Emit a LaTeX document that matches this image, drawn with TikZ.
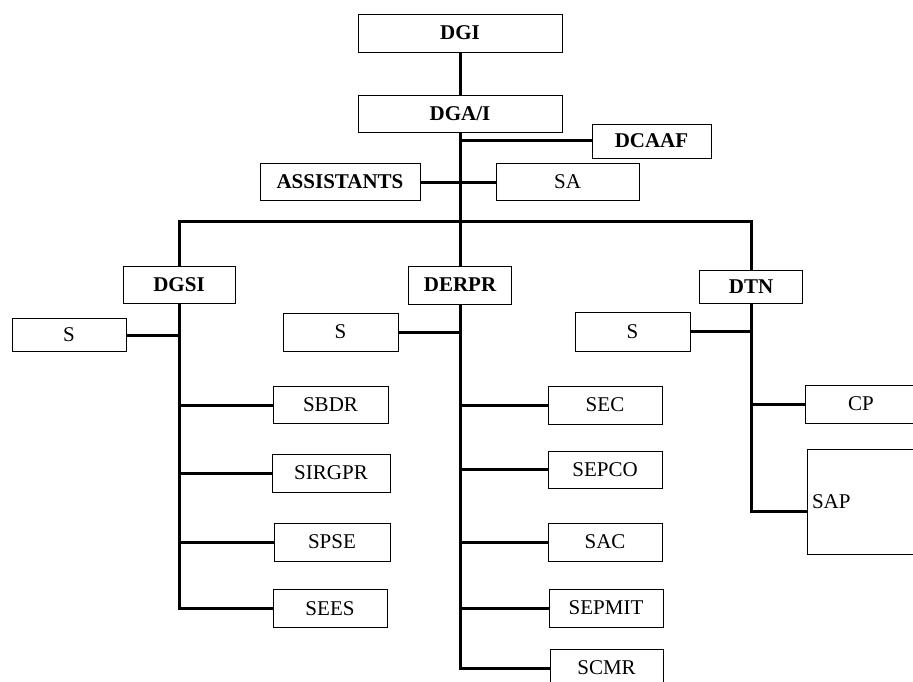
\documentclass[tikz,border=0pt]{standalone}
\usepackage{fontspec}
\setmainfont{Liberation Serif}
\tikzset{
	box/.style={draw, line width=0.9pt, inner sep=0pt, font=\fontsize{21}{24}\selectfont},
	head/.style={box, font=\fontsize{21}{24}\selectfont\bfseries},
	link/.style={line width=3pt}
}
\begin{document}
\begin{tikzpicture}[x=1pt,y=-1pt]
	\useasboundingbox (0,0) rectangle (913,682);
	% top
	\node [head,minimum width=204pt,minimum height=38pt] (dgi) at (460,33) {DGI};
	\node [head,minimum width=204pt,minimum height=37pt] (dgai) at (460,113.5) {DGA/I};
	\node [head,minimum width=119pt,minimum height=34pt] (dcaaf) at (651.5,141) {DCAAF};
	\node [head,minimum width=160pt,minimum height=37pt] (assist) at (340,182) {ASSISTANTS};
	\node [box,minimum width=143pt,minimum height=37pt] (sa) at (567.5,182) {SA};
	\coordinate (bus) at (460,221);
	% directions
	\node [head,minimum width=112pt,minimum height=37pt] (dgsi) at (179,284.5) {DGSI};
	\node [head,minimum width=103pt,minimum height=38pt] (derpr) at (460,285) {DERPR};
	\node [head,minimum width=103pt,minimum height=33pt] (dtn) at (751,286.5) {DTN};
	% DGSI
	\node [box,minimum width=114pt,minimum height=33pt] (sl) at (69,335) {S};
	\node [box,minimum width=115pt,minimum height=37pt] (sbdr) at (330.5,405) {SBDR};
	\node [box,minimum width=118pt,minimum height=38pt] (sirgpr) at (331,473) {SIRGPR};
	\node [box,minimum width=116pt,minimum height=38pt] (spse) at (332,542) {SPSE};
	\node [box,minimum width=114pt,minimum height=38pt] (sees) at (330,608.5) {SEES};
	% DERPR
	\node [box,minimum width=115pt,minimum height=38pt] (sm) at (340.5,332) {S};
	\node [box,minimum width=114pt,minimum height=38pt] (sec) at (605,405) {SEC};
	\node [box,minimum width=114pt,minimum height=37pt] (sepco) at (605,469.5) {SEPCO};
	\node [box,minimum width=114pt,minimum height=38pt] (sac) at (605,542) {SAC};
	\node [box,minimum width=114pt,minimum height=38pt] (sepmit) at (606,608) {SEPMIT};
	\node [box,minimum width=113pt,minimum height=38pt] (scmr) at (606.5,668) {SCMR};
	% DTN
	\node [box,minimum width=115pt,minimum height=39pt] (sr) at (632.5,331.5) {S};
	\node [box,minimum width=112pt,minimum height=38pt] (cp) at (861,404) {CP};
	\node [box,minimum width=110pt,minimum height=105pt,text width=100pt,align=left] (sap) at (862,501.5) {SAP};
	\coordinate (sapin) at ([yshift=-10pt]sap.west);

	\draw [link] (dgi) -- (dgai);
	\draw [link] (dgai.south) -- (bus);
	\draw [link] (dcaaf.west) -- (dcaaf.west -| dgai.south);
	\draw [link] (assist.east) -- (sa.west);
	\draw [link] (dgsi.north) -- (dgsi.north |- bus) -- (dtn.north |- bus) -- (dtn.north);
	\draw [link] (bus) -- (derpr.north);

	\draw [link] (dgsi.south) |- (sees.west);
	\draw [link] (sl.east) -- (sl.east -| dgsi.south);
	\foreach \n in {sbdr,sirgpr,spse}
		\draw [link] (\n.west) -- (\n.west -| dgsi.south);

	\draw [link] (derpr.south) |- (scmr.west);
	\draw [link] (sm.east) -- (sm.east -| derpr.south);
	\foreach \n in {sec,sepco,sac,sepmit}
		\draw [link] (\n.west) -- (\n.west -| derpr.south);

	\draw [link] (dtn.south) |- (sapin);
	\draw [link] (sr.east) -- (sr.east -| dtn.south);
	\draw [link] (cp.west) -- (cp.west -| dtn.south);
\end{tikzpicture}
\end{document}
